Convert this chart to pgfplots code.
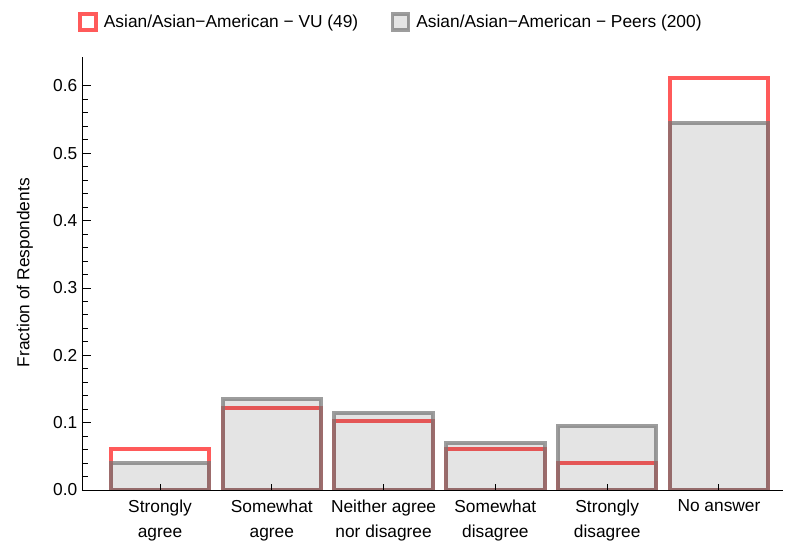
\documentclass[border=0pt]{standalone}
\usepackage{pgfplots}
\pgfplotsset{compat=1.18}
\usepackage{fontspec}
\setmainfont{Liberation Sans}
\definecolor{vured}{RGB}{255,90,90}
\definecolor{peeredge}{RGB}{116,116,116}
\definecolor{peerfill}{RGB}{64,64,64}
\begin{document}
\begin{tikzpicture}
\begin{axis}[
  scale only axis,
  width=525.75pt, height=324.75pt,
  xmin=-0.698, xmax=5.573, ymin=0, ymax=0.643,
  axis on top,
  axis lines*=left,
  axis line style={-, line width=0.7pt},
  ybar, bar width=0.88, bar shift=0pt,
  xtick={0,1,2,3,4,5},
  xticklabels={Strongly\\agree, Somewhat\\agree, Neither agree\\nor disagree, Somewhat\\disagree, Strongly\\disagree, No answer},
  xticklabel style={align=center, font=\fontsize{13}{18.75}\selectfont, anchor=north, yshift=-4pt},
  ytick={0,0.1,0.2,0.3,0.4,0.5,0.6},
  minor y tick num=4,
  tick align=inside,
  major tick length=6.5pt,
  minor tick length=4.2pt,
  xtick style={/pgfplots/major tick length=4.5pt},
  tick style={line width=0.7pt, black},
  yticklabel style={font=\fontsize{13}{15}\selectfont},
  /pgf/number format/.cd, fixed, fixed zerofill, precision=1, assume math mode=true,
  /pgfplots/.cd,
  ylabel={Fraction of Respondents},
  ylabel style={at={(axis description cs:-0.0813,0.502)}, anchor=center, font=\fontsize{13}{15}\selectfont},
  legend style={at={(axis description cs:0.4437,1.0808)}, anchor=center, draw=none, fill=none,
    font=\fontsize{13}{15}\selectfont,
    /tikz/every even column/.append style={column sep=20pt},
    /tikz/every odd column/.append style={column sep=0pt},
    nodes={inner xsep=4.5pt}},
  legend columns=-1,
]
\addplot[draw=vured, fill=none, line width=3pt,
  legend image code/.code={\draw[draw=vured, line width=2.6pt] (0pt,-6pt) rectangle (12pt,6pt);}]
  coordinates {(0,0.0612) (1,0.1224) (2,0.1020) (3,0.0612) (4,0.0408) (5,0.6122)};
\addlegendentry{Asian/Asian−American − VU (49)}
\addplot[draw=peeredge, draw opacity=0.7, fill=peerfill, fill opacity=0.14, line width=3pt,
  legend image code/.code={\draw[draw=peeredge, draw opacity=0.7, fill=peerfill, fill opacity=0.14, line width=2.6pt] (0pt,-6pt) rectangle (12pt,6pt);}]
  coordinates {(0,0.040) (1,0.135) (2,0.115) (3,0.070) (4,0.095) (5,0.545)};
\addlegendentry{Asian/Asian−American − Peers (200)}
\coordinate (sw) at (rel axis cs:0,0);
\coordinate (ne) at (rel axis cs:1,1);
\end{axis}
\pgfresetboundingbox
\path ([shift={(-61.5pt,-44.25pt)}]sw) rectangle ([shift={(1.5pt,42.75pt)}]ne);
\end{tikzpicture}
\end{document}
